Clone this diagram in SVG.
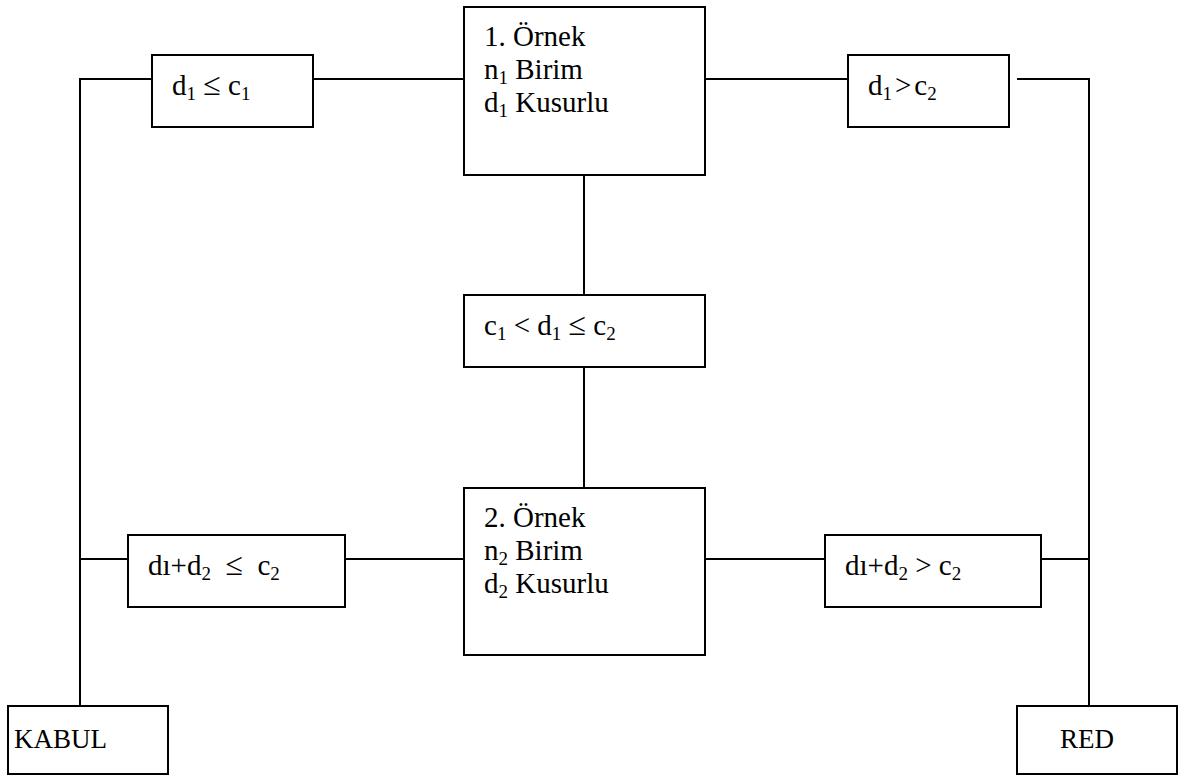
<svg xmlns="http://www.w3.org/2000/svg" width="1178" height="776" viewBox="0 0 1178 776">
  <style>
    .box { fill: #fff; stroke: #000; stroke-width: 2; }
    .wire { fill: none; stroke: #000; stroke-width: 2; }
    text { font-family: "Liberation Serif", "Times New Roman", serif; font-size: 29px; fill: #000; }
    .sub { font-size: 19px; }
    .rel { font-size: 32px; }
    .end { font-size: 27px; }
  </style>
  <rect width="1178" height="776" fill="#fff"/>

  <!-- connectors -->
  <g id="connectors">
    <polyline class="wire" points="152,79 80,79 80,706"/>
    <line class="wire" x1="313" y1="79" x2="464" y2="79"/>
    <line class="wire" x1="705" y1="79" x2="848" y2="79"/>
    <polyline class="wire" points="1017,79 1089,79 1089,706"/>
    <line class="wire" x1="584" y1="175" x2="584" y2="295"/>
    <line class="wire" x1="584" y1="367" x2="584" y2="488"/>
    <line class="wire" x1="80" y1="559" x2="128" y2="559"/>
    <line class="wire" x1="345" y1="559" x2="464" y2="559"/>
    <line class="wire" x1="705" y1="559" x2="825" y2="559"/>
    <line class="wire" x1="1041" y1="559" x2="1089" y2="559"/>
  </g>

  <!-- first sample -->
  <g id="sample1">
    <rect class="box" x="464" y="7" width="241" height="168"/>
    <text x="484" y="46">1. Örnek</text>
    <text x="484" y="79">n<tspan class="sub" dy="5">1</tspan><tspan dy="-5"> Birim</tspan></text>
    <text x="484" y="112">d<tspan class="sub" dy="5">1</tspan><tspan dy="-5"> Kusurlu</tspan></text>
  </g>

  <g id="accept1">
    <rect class="box" x="152" y="55" width="161" height="72"/>
    <text x="172" y="95">d<tspan class="sub" dy="5">1</tspan><tspan dy="-5"> </tspan><tspan class="rel">≤</tspan><tspan> c</tspan><tspan class="sub" dy="5">1</tspan></text>
  </g>

  <g id="reject1">
    <rect class="box" x="848" y="55" width="161" height="72"/>
    <text x="868" y="95">d<tspan class="sub" dy="5">1</tspan><tspan dy="-5" dx="3">&gt;</tspan><tspan dx="3">c</tspan><tspan class="sub" dy="5">2</tspan></text>
  </g>

  <g id="between">
    <rect class="box" x="464" y="295" width="241" height="72"/>
    <text x="484" y="335">c<tspan class="sub" dy="5">1</tspan><tspan dy="-5"> &lt; d</tspan><tspan class="sub" dy="5">1</tspan><tspan dy="-5"> </tspan><tspan class="rel">≤</tspan><tspan> c</tspan><tspan class="sub" dy="5">2</tspan></text>
  </g>

  <!-- second sample -->
  <g id="sample2">
    <rect class="box" x="464" y="488" width="241" height="167"/>
    <text x="484" y="527">2. Örnek</text>
    <text x="484" y="560">n<tspan class="sub" dy="5">2</tspan><tspan dy="-5"> Birim</tspan></text>
    <text x="484" y="593">d<tspan class="sub" dy="5">2</tspan><tspan dy="-5"> Kusurlu</tspan></text>
  </g>

  <g id="accept2">
    <rect class="box" x="128" y="535" width="217" height="72"/>
    <text x="148" y="575" xml:space="preserve">dı+d<tspan class="sub" dy="5">2</tspan><tspan dy="-5">  </tspan><tspan class="rel">≤</tspan><tspan>  c</tspan><tspan class="sub" dy="5">2</tspan></text>
  </g>

  <g id="reject2">
    <rect class="box" x="825" y="535" width="216" height="72"/>
    <text x="845" y="575">dı+d<tspan class="sub" dy="5">2</tspan><tspan dy="-5"> &gt; c</tspan><tspan class="sub" dy="5">2</tspan></text>
  </g>

  <!-- outcomes -->
  <g id="kabul">
    <rect class="box" x="8" y="706" width="160" height="68"/>
    <text class="end" x="14" y="748">KABUL</text>
  </g>

  <g id="red">
    <rect class="box" x="1017" y="706" width="160" height="68"/>
    <text class="end" x="1060" y="748">RED</text>
  </g>
</svg>
